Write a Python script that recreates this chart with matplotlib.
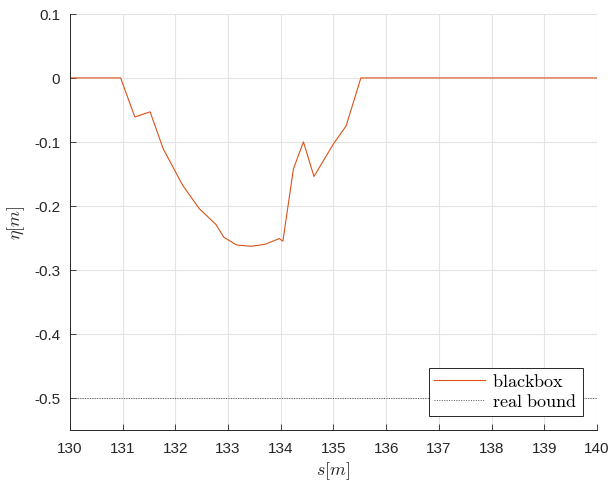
import matplotlib.pyplot as plt
import numpy as np

plt.rcParams['font.family'] = ['Liberation Sans', 'DejaVu Sans']
plt.rcParams['mathtext.fontset'] = 'cm'

# blackbox trajectory
s = [130.0, 130.96, 131.23, 131.52, 131.77, 132.14, 132.45, 132.77, 132.92,
     133.16, 133.44, 133.70, 133.97, 134.04, 134.24, 134.43, 134.63, 135.0,
     135.24, 135.52, 140.0]
eta = [0.0, 0.0, -0.061, -0.053, -0.111, -0.168, -0.204, -0.229, -0.249,
       -0.261, -0.263, -0.260, -0.251, -0.255, -0.142, -0.100, -0.154, -0.103,
       -0.075, 0.0, 0.0]
bound_s = [130, 140]
bound_eta = [-0.5, -0.5]

fig = plt.figure(figsize=(6.11, 4.81), dpi=100)
ax = fig.add_axes([0.1146, 0.104, 0.977 - 0.1146, 0.969 - 0.104])

ax.plot(s, eta, color='#D95319', lw=0.8, label=r'$\mathrm{blackbox}$')
ax.plot(bound_s, bound_eta, color='#555555', lw=0.7, ls=(0, (1, 1.5)),
        label=r'$\mathrm{real\ bound}$')

ax.set_xlim(130, 140)
ax.set_ylim(-0.55, 0.1)
ax.set_xticks(np.arange(130, 141, 1))
ax.set_yticks([-0.5, -0.4, -0.3, -0.2, -0.1, 0, 0.1])
ax.set_yticklabels(['-0.5', '-0.4', '-0.3', '-0.2', '-0.1', '0', '0.1'])

ax.grid(True, color='#e3e3e3', lw=0.8)
ax.set_axisbelow(True)
ax.tick_params(direction='in', length=4, width=0.6, labelsize=11,
               colors='#262626', top=False, right=False)
ax.tick_params(axis='x', pad=8)
ax.tick_params(axis='y', pad=7)
ax.spines['top'].set_visible(False)
ax.spines['right'].set_visible(False)
for sp in ('left', 'bottom'):
    ax.spines[sp].set_color('#262626')
    ax.spines[sp].set_linewidth(0.7)

ax.set_xlabel(r'$s[m]$', fontsize=13, color='#262626', labelpad=3)
ax.set_ylabel(r'$\eta[m]$', fontsize=13, color='#262626', labelpad=5)

leg = ax.legend(loc='lower right', fontsize=13, fancybox=False, framealpha=1,
                edgecolor='#262626', borderpad=0.3, handlelength=2.8,
                labelspacing=0.15, handletextpad=0.4, borderaxespad=0.8)
leg.get_frame().set_linewidth(0.7)

fig.savefig('out.png', dpi=100)
